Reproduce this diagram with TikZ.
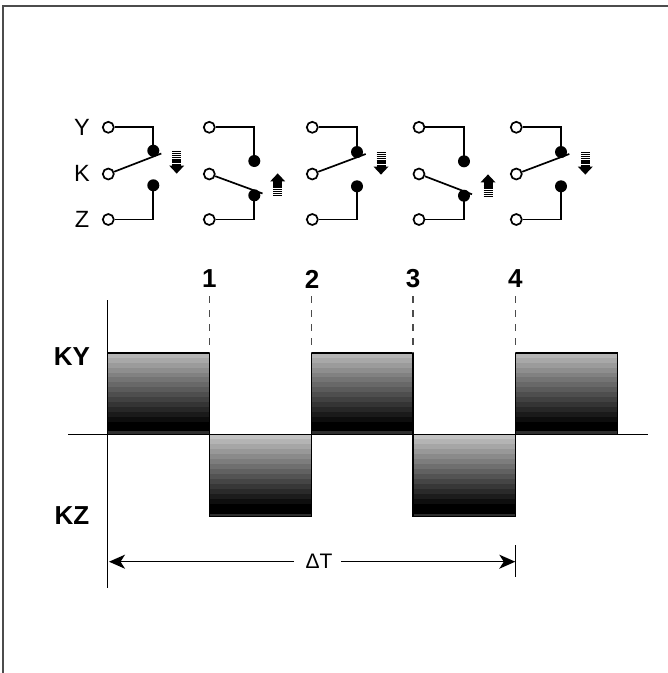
\documentclass[tikz,border=0pt]{standalone}
\usepackage{fontspec}
\setmainfont{Liberation Sans}
\usetikzlibrary{arrows.meta}
\tikzset{
  x=1pt,y=-1pt,
  term/.style={circle,draw=black,fill=white,line width=1.7pt,minimum size=11pt,inner sep=0pt},
  contact/.style={circle,fill=black,minimum size=12pt,inner sep=0pt},
  wire/.style={line width=1.7pt,line join=miter},
  blade/.style={line width=1.7pt},
  axisline/.style={line width=1.4pt},
  guide/.style={line width=1.1pt,draw=black!70,dash pattern=on 7pt off 7pt},
  dim/.style={line width=1.5pt,-{Stealth[length=16pt,width=14pt,inset=4.5pt]}},
  biglabel/.style={font=\bfseries\fontsize{26}{26}\selectfont,inner sep=0pt},
  smalllabel/.style={font=\fontsize{23.5}{23.5}\selectfont,inner sep=0pt},
  framepen/.style={line width=2pt,draw=black!70}
}
% #1 id, #2 terminal x, #3 contact x, #4 top contact y, #5 bottom contact y, #6 blade end x, #7 blade end y
\newcommand{\relayswitch}[7]{
  \node[term] (Y#1) at (#2,127.3) {};
  \node[term] (K#1) at (#2,174) {};
  \node[term] (Z#1) at (#2,219.5) {};
  \node[contact] (U#1) at (#3,#4) {};
  \node[contact] (L#1) at (#3,#5) {};
  \coordinate (E#1) at (#6,#7);
  \draw[wire] (Y#1.east) -| (U#1.center);
  \draw[wire] (Z#1.east) -| (L#1.center);
  \draw[blade] (K#1) -- (E#1);
}
% #1 x, #2 y where the stripes begin, #3 direction (+1 down, -1 up)
\newcommand{\motionarrow}[3]{
  \begin{scope}[shift={(#1,#2)},yscale=#3]
    \foreach \p/\w in {0.5/0.7,2.5/0.9,4.6/1.1,6.8/1.3,9/1.6,11.4/2,13.8/2.6}
      \draw[line width=\w pt] (-4.5,\p) -- (4.5,\p);
    \fill (-7.5,14.6) -- (7.5,14.6) -- (0,22.6) -- cycle;
  \end{scope}
}
% #1 left, #2 right, #3 top, #4 bottom, #5 lightest grey
\newcommand{\shadedblock}[5]{
  \pgfmathsetmacro{\bandh}{(#4-#3-3)/16}
  \foreach \i in {0,...,15}{
    \pgfmathsetmacro{\lev}{max(0,#5*(1-\i/14))}
    \definecolor{bandcol}{gray}{\lev}
    \fill[bandcol] (#1,{#3+\i*\bandh}) rectangle (#2,{#3+(\i+1)*\bandh+0.3});
  }
  \fill[black!82] (#1,#4-3) rectangle (#2,#4);
  \draw[line width=1.3pt] (#1,#3) rectangle (#2,#4);
}
\begin{document}
\begin{tikzpicture}
  \useasboundingbox (0,0) rectangle (668,673);
  \fill[white] (0,0) rectangle (668,673);
  \draw[framepen] (3.3,673) -- (3.3,5.7) -- (668,5.7);

  \node[smalllabel] (lY) at (82,127.5) {Y};
  \node[smalllabel] (lK) at (82,173.3) {K};
  \node[smalllabel] (lZ) at (82,219) {Z};

  \relayswitch{1}{108.3}{153.3}{150.7}{185.3}{161.3}{153.5}
  \relayswitch{2}{209.3}{254.3}{161}{195.3}{262.5}{193.5}
  \relayswitch{3}{312.3}{357}{152}{186.3}{365.7}{154}
  \relayswitch{4}{419}{464}{161.3}{195.7}{472}{194.3}
  \relayswitch{5}{516.3}{561}{152}{186.3}{569.3}{154}

  \motionarrow{176.7}{151}{1}
  \motionarrow{277.7}{196}{-1}
  \motionarrow{381}{152}{1}
  \motionarrow{488}{197}{-1}
  \motionarrow{585.3}{152}{1}

  \shadedblock{107.7}{209.3}{353}{434.3}{0.71}
  \shadedblock{209.3}{311.7}{434.3}{516.7}{0.76}
  \shadedblock{311.7}{413}{353}{434.3}{0.71}
  \shadedblock{413}{515.3}{434.3}{516.7}{0.76}
  \shadedblock{515.3}{617.3}{353}{434.3}{0.71}

  \coordinate (vT) at (107.7,300);
  \coordinate (vB) at (107.7,588);
  \coordinate (hL) at (68.3,434.3);
  \coordinate (hR) at (648.3,434.3);
  \draw[axisline] (vT) -- (vB);
  \draw[axisline] (hL) -- (hR);

  \node[biglabel] (n1) at (209.3,279) {1};
  \node[biglabel] (n2) at (312,279) {2};
  \node[biglabel] (n3) at (413,279) {3};
  \node[biglabel] (n4) at (515.3,279) {4};
  \foreach \k/\xx in {1/209.3,2/311.7,3/413,4/515.3}{
    \coordinate (g\k) at (\xx,296);
    \coordinate (h\k) at (\xx,353);
    \draw[guide] (g\k) -- (h\k);
  }

  \node[biglabel] (KY) at (72,357) {KY};
  \node[biglabel] (KZ) at (72,516) {KZ};

  \node[font=\fontsize{21}{21}\selectfont,inner sep=0pt] (dT) at (319,561.5) {ΔT};
  \coordinate (aL) at (109,561.7);
  \coordinate (aR) at (515.3,561.7);
  \coordinate (tT) at (515.3,545);
  \coordinate (tB) at (515.3,577);
  \draw[dim] (294,561.7) -- (aL);
  \draw[dim] (341,561.7) -- (aR);
  \draw[line width=1.3pt] (tT) -- (tB);
\end{tikzpicture}
\end{document}
